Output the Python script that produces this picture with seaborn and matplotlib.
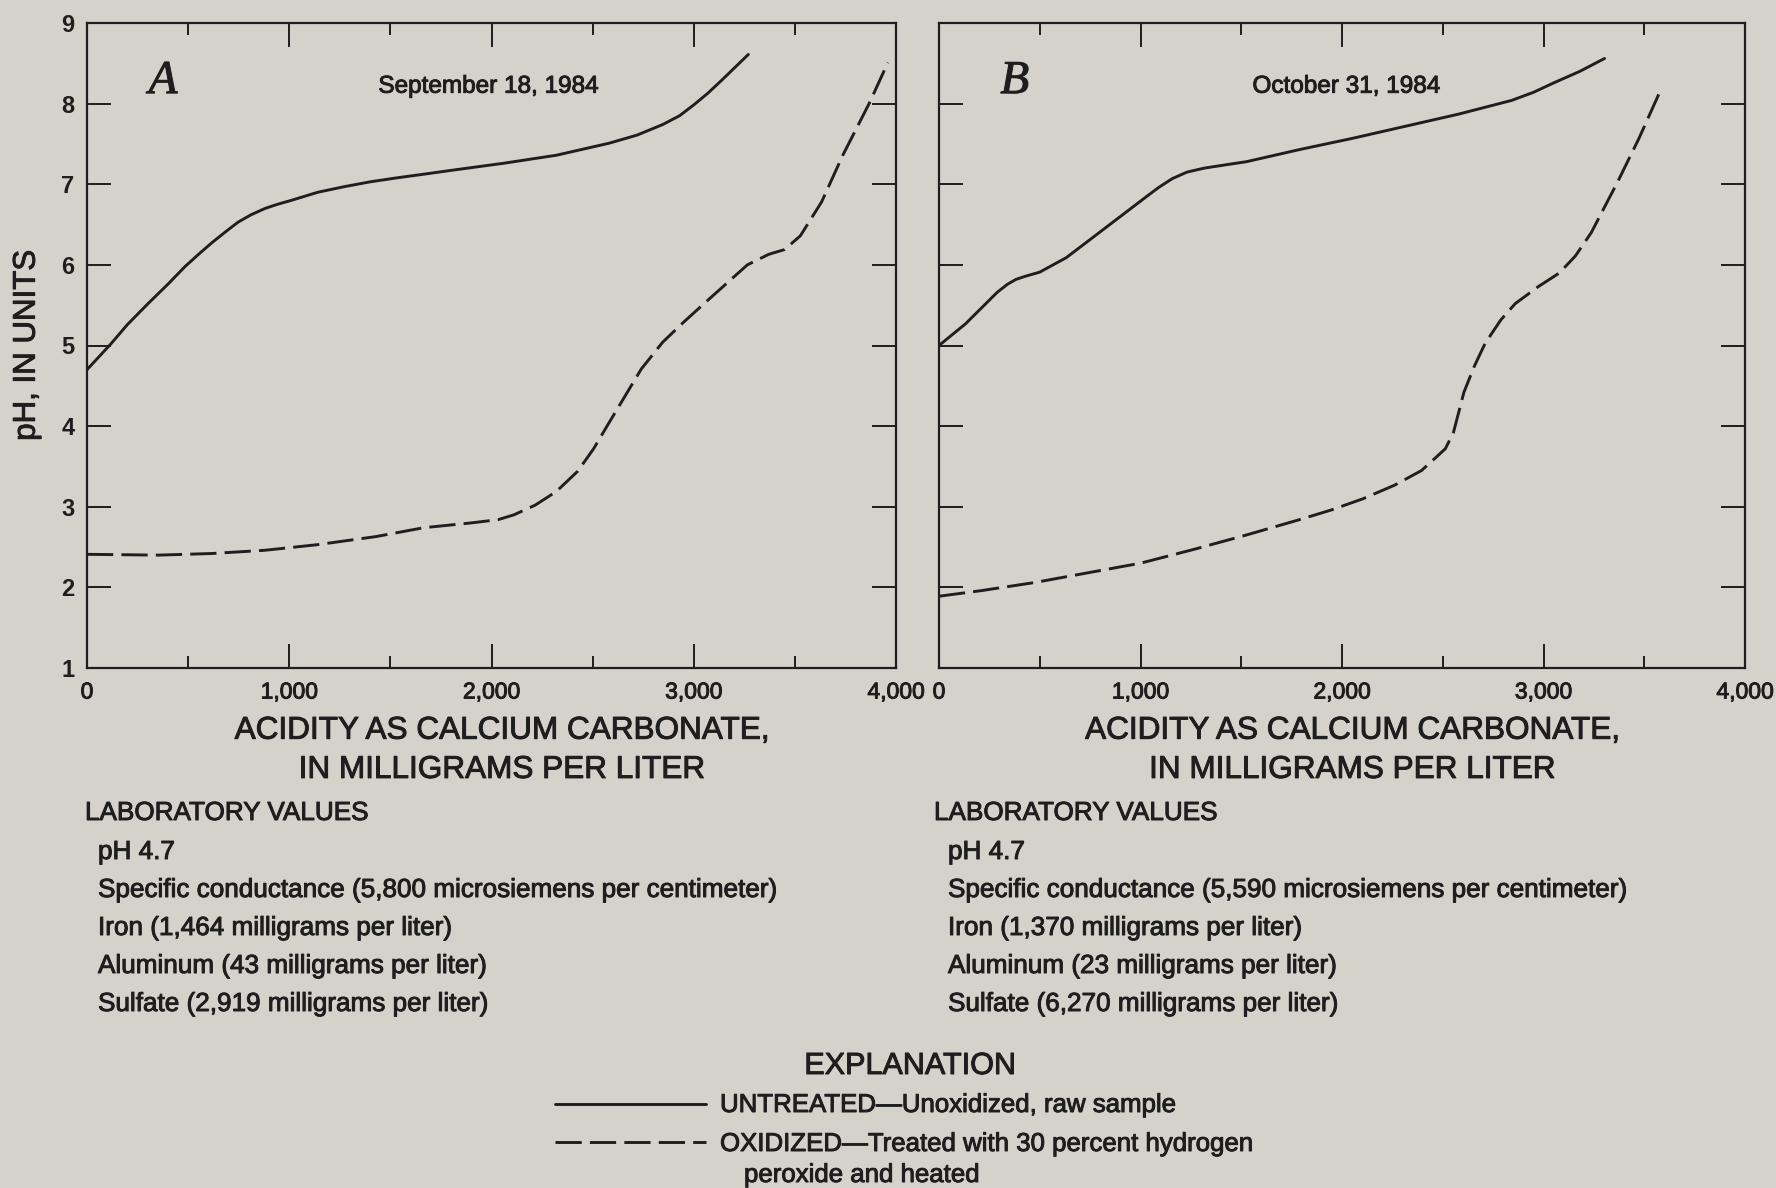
import matplotlib
matplotlib.use("Agg")
import matplotlib.pyplot as plt
import matplotlib.patheffects as pe
from matplotlib.lines import Line2D
from matplotlib.ticker import MultipleLocator
import seaborn as sns
import pandas as pd

# ---------------- data ----------------
x_ticks = [0, 1000, 2000, 3000, 4000]
x_tick_labels = ["0", "1,000", "2,000", "3,000", "4,000"]
y_ticks = [1, 2, 3, 4, 5, 6, 7, 8, 9]

a_untreated_x = [0, 118, 200, 302, 400, 485, 560, 620, 690, 747, 810, 880, 940, 1010,
                 1140, 1272, 1400, 1534, 1680, 1823, 2059, 2321, 2583, 2720, 2846, 2930,
                 3003, 3070, 3134, 3200, 3270]
a_untreated_y = [4.70, 5.02, 5.26, 5.52, 5.76, 5.98, 6.15, 6.28, 6.42, 6.53, 6.62, 6.70,
                 6.75, 6.80, 6.90, 6.97, 7.03, 7.08, 7.13, 7.18, 7.26, 7.36, 7.51, 7.61,
                 7.74, 7.85, 7.99, 8.13, 8.28, 8.44, 8.61]

a_oxidized_x = [0, 354, 616, 879, 1141, 1429, 1665, 1901, 2033, 2111, 2216, 2321, 2426,
                2505, 2583, 2662, 2741, 2846, 2950, 3100, 3265, 3370, 3449, 3527, 3632,
                3737, 3869, 3960]
a_oxidized_y = [2.41, 2.40, 2.42, 2.46, 2.53, 2.63, 2.74, 2.80, 2.84, 2.90, 3.02, 3.19,
                3.44, 3.72, 4.05, 4.38, 4.71, 5.04, 5.29, 5.63, 6.00, 6.13, 6.19, 6.36,
                6.78, 7.36, 8.01, 8.51]

b_untreated_x = [0, 132, 289, 340, 382, 430, 500, 632, 816, 1026, 1090, 1158, 1230, 1316,
                 1420, 1526, 1789, 2053, 2316, 2579, 2842, 2950, 3053, 3180, 3303]
b_untreated_y = [5.00, 5.27, 5.66, 5.76, 5.82, 5.86, 5.91, 6.09, 6.44, 6.84, 6.96, 7.07,
                 7.15, 7.20, 7.24, 7.28, 7.43, 7.57, 7.72, 7.87, 8.04, 8.14, 8.26, 8.40,
                 8.56]

b_oxidized_x = [0, 211, 474, 737, 1000, 1263, 1526, 1789, 1947, 2105, 2263, 2395, 2461,
                2513, 2553, 2579, 2605, 2658, 2711, 2789, 2860, 2974, 3079, 3158, 3237,
                3289, 3368, 3474, 3587]
b_oxidized_y = [1.89, 1.96, 2.06, 2.18, 2.30, 2.47, 2.65, 2.84, 2.96, 3.10, 3.27, 3.45,
                3.60, 3.72, 3.92, 4.17, 4.42, 4.75, 5.03, 5.32, 5.52, 5.73, 5.90, 6.11,
                6.40, 6.65, 7.03, 7.57, 8.20]

panel_letters = ["A", "B"]
panel_dates = ["September 18, 1984", "October 31, 1984"]
y_label = "pH, IN UNITS"
x_label = "ACIDITY AS CALCIUM CARBONATE,\nIN MILLIGRAMS PER LITER"

lab_header = "LABORATORY VALUES"
lab_values_a = ["pH 4.7",
                "Specific conductance (5,800 microsiemens per centimeter)",
                "Iron (1,464 milligrams per liter)",
                "Aluminum (43 milligrams per liter)",
                "Sulfate (2,919 milligrams per liter)"]
lab_values_b = ["pH 4.7",
                "Specific conductance (5,590 microsiemens per centimeter)",
                "Iron (1,370 milligrams per liter)",
                "Aluminum (23 milligrams per liter)",
                "Sulfate (6,270 milligrams per liter)"]

explanation_title = "EXPLANATION"
legend_untreated = "UNTREATED\u2014Unoxidized, raw sample"
legend_oxidized = "OXIDIZED\u2014Treated with 30 percent hydrogen"
legend_oxidized_2 = "peroxide and heated"

# ---------------- style ----------------
BG = "#d5d2cc"
INK = "#1e1e1e"
sns.set_theme(style="ticks")
plt.rcParams["font.family"] = ["Liberation Sans", "DejaVu Sans"]
plt.rcParams["text.color"] = INK
plt.rcParams["axes.labelcolor"] = INK
plt.rcParams["xtick.color"] = INK
plt.rcParams["ytick.color"] = INK

THICK = [pe.withStroke(linewidth=0.7, foreground=INK)]

W, H = 1776, 1188
fig = plt.figure(figsize=(W / 100, H / 100), dpi=100, facecolor=BG)


def fx(px):
    return px / W


def fy(py):
    return 1 - py / H


def ftext(x, y, s, size, **kw):
    t = fig.text(fx(x), fy(y), s, fontsize=size, va="center", **kw)
    t.set_path_effects(THICK)
    return t


axA = fig.add_axes([fx(87), fy(668), (896 - 87) / W, (668 - 23) / H])
axB = fig.add_axes([fx(939), fy(668), (1745 - 939) / W, (668 - 23) / H])

DASH = (0, (9.0, 2.8))
LW = 2.1

panels = [
    (axA, a_untreated_x, a_untreated_y, a_oxidized_x, a_oxidized_y),
    (axB, b_untreated_x, b_untreated_y, b_oxidized_x, b_oxidized_y),
]

for i, (ax, ux, uy, ox, oy) in enumerate(panels):
    ax.set_facecolor(BG)
    du = pd.DataFrame({"acidity": ux, "pH": uy})
    do = pd.DataFrame({"acidity": ox, "pH": oy})
    sns.lineplot(data=du, x="acidity", y="pH", ax=ax, color=INK, lw=LW,
                 legend=False, estimator=None)
    sns.lineplot(data=do, x="acidity", y="pH", ax=ax, color=INK, lw=LW,
                 linestyle=DASH, legend=False, estimator=None)
    ax.set_xlim(0, 4000)
    ax.set_ylim(1, 9)
    ax.set_xticks(x_ticks)
    ax.set_xticklabels(x_tick_labels)
    ax.xaxis.set_minor_locator(MultipleLocator(500))
    ax.set_yticks(y_ticks)
    ax.set_yticklabels([str(v) for v in y_ticks], fontweight="bold")
    for s in ax.spines.values():
        s.set_visible(True)
        s.set_color(INK)
        s.set_linewidth(1.6)
    ax.tick_params(axis="both", which="both", direction="in", top=True, right=True,
                   color=INK, width=1.4)
    ax.tick_params(axis="both", which="major", length=17)
    ax.tick_params(axis="both", which="minor", length=8.5)
    ax.tick_params(axis="x", which="major", labelsize=16.5, pad=9)
    ax.tick_params(axis="y", which="major", labelsize=17, pad=9)
    for lab in ax.get_xticklabels():
        lab.set_path_effects(THICK)
    xl = ax.set_xlabel(x_label, fontsize=22.7, linespacing=1.4)
    xl.set_path_effects(THICK)
    ax.xaxis.set_label_coords(0.513, -0.074)
    if i == 0:
        yl = ax.set_ylabel(y_label, fontsize=22.5)
        yl.set_path_effects(THICK)
        ax.yaxis.set_label_coords(-0.056, 0.5)
    else:
        ax.set_ylabel("")
        ax.tick_params(axis="y", labelleft=False)
    t = ax.text(376, 8.27, panel_letters[i], fontsize=34, style="italic",
                family=["Liberation Serif", "DejaVu Serif"], ha="center", va="center",
                color=INK)
    t.set_path_effects(THICK)
    t = ax.text([1983, 2020][i], 8.21, panel_dates[i], fontsize=17.5, ha="center",
                va="center", color=INK)
    t.set_path_effects(THICK)

# ---------------- laboratory values ----------------
rows_y = [852, 890, 928, 966, 1004]
for hx, ix, vals in [(85, 98, lab_values_a), (934, 948, lab_values_b)]:
    ftext(hx, 813, lab_header, 18.8, ha="left")
    for ry, t in zip(rows_y, vals):
        ftext(ix, ry, t, 18.8, ha="left")

# ---------------- explanation ----------------
ftext(910, 1066, explanation_title, 22, ha="center")
fig.add_artist(Line2D([fx(555), fx(706)], [fy(1104), fy(1104)], color=INK, lw=LW))
fig.add_artist(Line2D([fx(555), fx(706)], [fy(1142), fy(1142)], color=INK, lw=LW,
                      linestyle=DASH))
ftext(720, 1105, legend_untreated, 18.6, ha="left")
ftext(720, 1144, legend_oxidized, 18.6, ha="left")
ftext(744, 1175, legend_oxidized_2, 18.6, ha="left")

fig.savefig("out.png", dpi=100, facecolor=BG)
